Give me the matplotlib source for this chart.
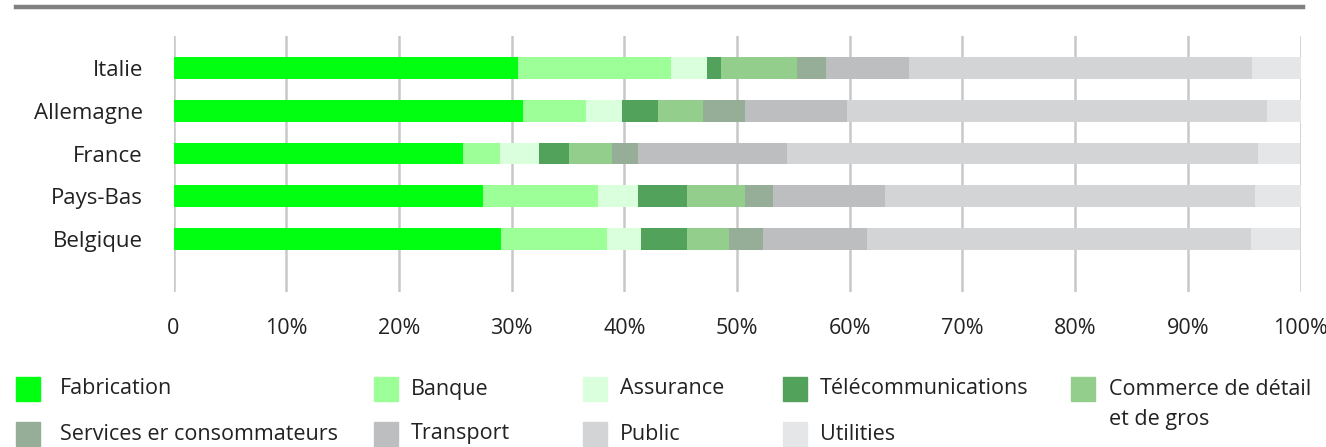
import matplotlib
matplotlib.use("Agg")
import matplotlib.pyplot as plt
from matplotlib.patches import Rectangle
from matplotlib.lines import Line2D

plt.rcParams["font.family"] = ["Open Sans", "DejaVu Sans"]

countries = ["Italie", "Allemagne", "France", "Pays-Bas", "Belgique"]

sectors = [
    "Fabrication", "Banque", "Assurance", "Télécommunications",
    "Commerce de détail\net de gros", "Services er consommateurs",
    "Transport", "Public", "Utilities",
]

# share of each sector per country, in %
fabrication = [30.6, 31.0, 25.7, 27.5, 29.1]
banque = [13.5, 5.6, 3.3, 10.2, 9.4]
assurance = [3.2, 3.2, 3.4, 3.5, 3.0]
telecom = [1.3, 3.2, 2.7, 4.4, 4.1]
commerce = [6.7, 4.0, 3.8, 5.1, 3.7]
services = [2.6, 3.7, 2.3, 2.5, 3.0]
transport = [7.4, 9.1, 13.2, 9.9, 9.2]
public = [30.4, 37.2, 41.8, 32.9, 34.1]
utilities = [4.3, 3.0, 3.8, 4.0, 4.4]

series = [fabrication, banque, assurance, telecom, commerce,
          services, transport, public, utilities]

colors = ["#00ff10", "#9cff98", "#d9ffdc", "#52a25c", "#93ce8d",
          "#96ae98", "#bdbec0", "#d3d4d6", "#e5e6e8"]

fig = plt.figure(figsize=(13.26, 4.47), dpi=100)
W, H = 1326, 447
ax = fig.add_axes([173.5 / W, 1 - 292 / H, 1127 / W, 256 / H])

y = list(range(len(countries)))
left = [0.0] * len(countries)
for vals, col in zip(series, colors):
    ax.barh(y, vals, left=left, height=0.51, color=col, zorder=3)
    left = [a + b for a, b in zip(left, vals)]

ax.set_xlim(0, 100)
ax.set_ylim(5.24, -0.75)
ax.set_xticks(range(0, 101, 10))
ax.set_xticklabels(["0"] + [f"{v}%" for v in range(10, 101, 10)])
ax.set_yticks(y)
ax.set_yticklabels(countries)
ax.tick_params(axis="x", length=0, pad=19, labelsize=15.5, labelcolor="#222222")
ax.tick_params(axis="y", length=0, pad=22, labelsize=16, labelcolor="#222222")
ax.grid(axis="x", color="#c8c8c8", linewidth=1.8, zorder=0)
for s in ax.spines.values():
    s.set_visible(False)

# rule across the top
fig.add_artist(Line2D([16 / W, 1303 / W], [1 - 7 / H, 1 - 7 / H],
                      color="#808080", linewidth=3.2))

# legend, two rows
slots = [(16, 60, 389), (374, 411, 389), (583, 620, 389), (783, 820, 389),
         (1071, 1109, 389), (16, 60, 434), (374, 411, 434), (583, 620, 434),
         (783, 820, 434)]
for i, (sx, tx, ty) in enumerate(slots):
    fig.add_artist(Rectangle((sx / W, 1 - (ty + 12) / H), 24 / W, 24 / H,
                             color=colors[i], transform=fig.transFigure))
    yy = ty
    if "\n" in sectors[i]:
        yy = ty + 15.5
    fig.text(tx / W, 1 - yy / H, sectors[i], fontsize=15.5, color="#222222",
             va="center", ha="left", linespacing=1.6)

fig.savefig("out.png", dpi=100)
